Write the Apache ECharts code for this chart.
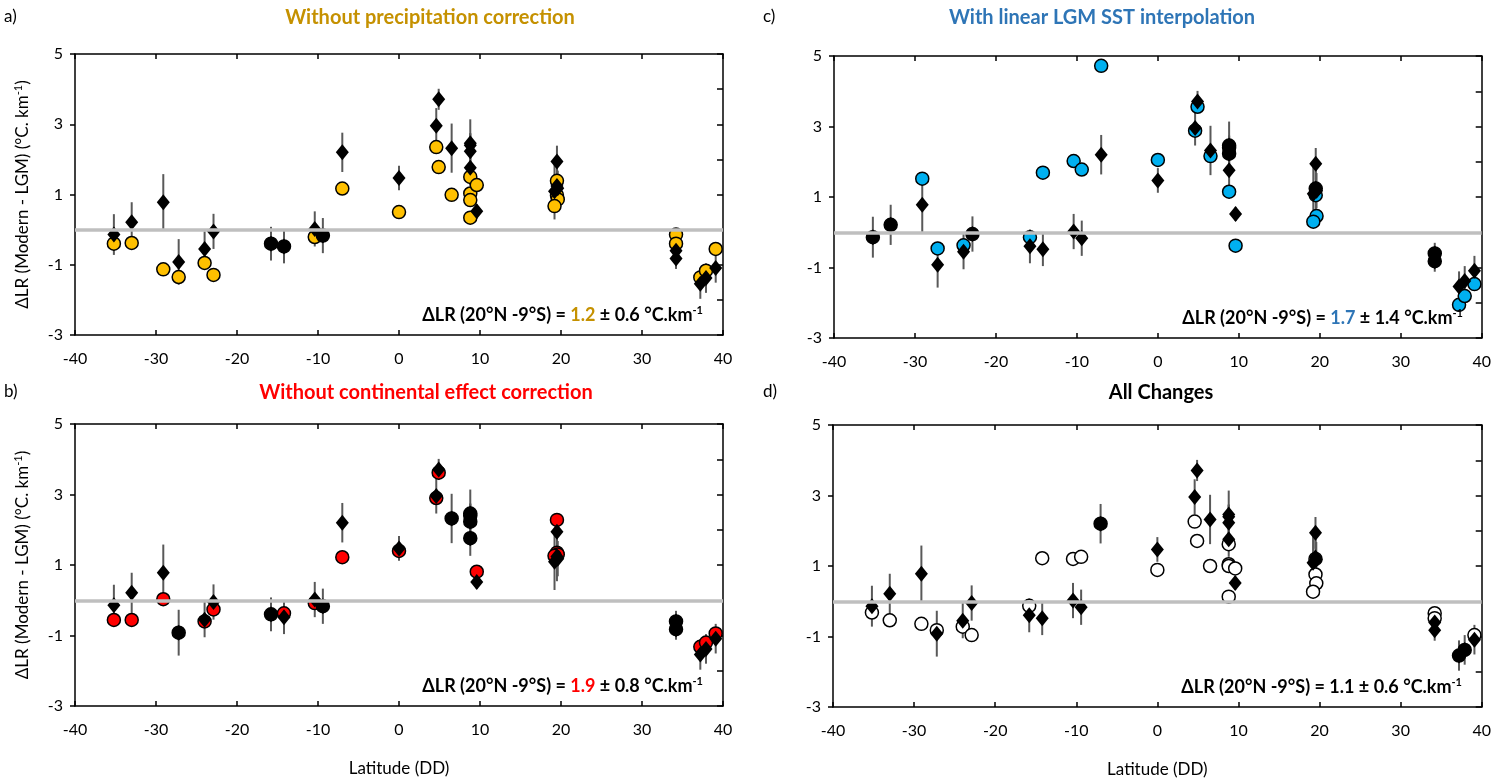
<!DOCTYPE html>
<html>
<head>
<meta charset="utf-8">
<script src="https://cdn.jsdelivr.net/npm/echarts@6/dist/echarts.min.js"></script>
<style>
  html, body { margin: 0; padding: 0; background: #fff; }
  #chart { width: 1494px; height: 780px; }
</style>
</head>
<body>
<div id="chart"></div>
<script>
// site latitudes (DD) and reference lapse-rate change with 1 sigma
var lat = [-35.2, -33.0, -29.1, -27.2, -24.0, -22.9, -15.8, -14.2, -10.4, -9.4, -7.0,
  0.0, 4.6, 4.9, 6.5, 8.8, 8.8, 8.8, 8.8, 9.6, 19.5, 19.5, 19.6, 19.2, 34.2, 34.2, 37.2, 37.9, 39.1];
var lrRef = [-0.14, 0.21, 0.78, -0.92, -0.55, -0.05, -0.40, -0.48, 0.02, -0.17, 2.20,
  1.47, 2.96, 3.71, 2.32, 2.46, 2.40, 2.23, 1.76, 0.52, 1.94, 1.24, 1.18, 1.09, -0.60, -0.82, -1.54, -1.38, -1.09];
var lrErr = [0.58, 0.57, 0.80, 0.65, 0.50, 0.50, 0.48, 0.48, 0.50, 0.50, 0.56,
  0.35, 0.50, 0.30, 0.70, 0.68, 0.35, 0.50, 0.50, 0.20, 0.45, 0.70, 0.50, 0.80, 0.30, 0.30, 0.43, 0.42, 0.42];

// sensitivity tests
var lrNoPrecip = [-0.40, -0.38, -1.13, -1.35, -0.95, -1.29, -0.40, -0.48, -0.21, -0.17, 1.17,
  0.50, 2.35, 1.78, 0.99, 1.50, 1.03, 0.84, 0.34, 1.27, 1.39, 0.98, 0.86, 0.67, -0.14, -0.40, -1.36, -1.17, -0.55];
var lrNoCont = [-0.56, -0.56, 0.03, -0.92, -0.60, -0.26, -0.40, -0.37, -0.08, -0.17, 1.22,
  1.40, 2.90, 3.62, 2.32, 2.46, 2.40, 2.23, 1.76, 0.81, 2.28, 1.35, 1.30, 1.26, -0.60, -0.82, -1.32, -1.20, -0.94];
var lrLinSST = [-0.14, 0.21, 1.52, -0.46, -0.37, -0.05, -0.14, 1.69, 2.02, 1.78, 4.72,
  2.05, 2.88, 3.56, 2.16, 2.46, 2.40, 2.23, 1.15, -0.38, 1.05, 1.24, 0.46, 0.30, -0.60, -0.82, -2.06, -1.81, -1.47];
var lrAll = [-0.32, -0.54, -0.64, -0.82, -0.72, -0.96, -0.13, 1.22, 1.20, 1.26, 2.20,
  0.89, 2.26, 1.71, 1.00, 1.62, 1.05, 1.00, 0.13, 0.93, 1.20, 0.76, 0.51, 0.27, -0.34, -0.48, -1.54, -1.38, -0.96];

var panelLetters = ['a)', 'b)', 'c)', 'd)'];
var panelTitles = ['Without precipitation correction', 'Without continental effect correction',
  'With linear LGM SST interpolation', 'All Changes'];
var meanLR = ['1.2', '1.9', '1.7', '1.1'];
var sdLR = ['0.6', '0.8', '1.4', '0.6'];

var tests = [lrNoPrecip, lrNoCont, lrLinSST, lrAll];
var fills = ['#FFC000', '#FF0000', '#00B0F0', '#FFFFFF'];
var titleColors = ['#C59100', '#FF0000', '#2E75B6', '#000000'];
var valColors = ['#C59100', '#FF0000', '#2E75B6', '#000000'];

var grids = [
  { left: 75, top: 54, width: 648, height: 281 },
  { left: 75, top: 424, width: 648, height: 282 },
  { left: 834, top: 56, width: 649, height: 282 },
  { left: 833, top: 425, width: 649, height: 282 }
];
var titleCenters = [430, 426, 1102, 1161];
var FONT = 'Lato';

var xAxes = [], yAxes = [], series = [], titles = [];

grids.forEach(function (g, i) {
  var bottomRow = (i === 1 || i === 3);
  xAxes.push({
    gridIndex: i, type: 'value', min: -40, max: 40, interval: 10, position: 'bottom',
    name: bottomRow ? 'Latitude (DD)' : '', nameLocation: 'middle', nameGap: 54,
    nameTextStyle: { fontFamily: FONT, fontSize: 17, color: '#000' },
    axisLine: { onZero: false, lineStyle: { color: '#000', width: 1.5 } },
    axisTick: { inside: true, length: 5, lineStyle: { color: '#000', width: 1.5 } },
    axisLabel: { fontFamily: FONT, fontSize: 16, color: '#000', margin: 16 },
    splitLine: { show: false }
  });
  xAxes.push({
    gridIndex: i, type: 'value', min: -40, max: 40, interval: 10, position: 'top',
    axisLine: { onZero: false, lineStyle: { color: '#000', width: 1.5 } },
    axisTick: { inside: true, length: 5, lineStyle: { color: '#000', width: 1.5 } },
    axisLabel: { show: false }, splitLine: { show: false }
  });
  yAxes.push({
    gridIndex: i, type: 'value', min: -3, max: 5, interval: 2, position: 'left',
    name: (i < 2) ? 'ΔLR (Modern - LGM) (°C. km{sup|-1})' : '',
    nameLocation: 'middle', nameRotate: 90, nameGap: 43,
    nameTextStyle: { fontFamily: FONT, fontSize: 17, color: '#000',
      rich: { sup: { fontFamily: FONT, fontSize: 11, verticalAlign: 'top', padding: [0, 0, 8, 0] } } },
    axisLine: { onZero: false, lineStyle: { color: '#000', width: 1.5 } },
    axisTick: { length: 5, lineStyle: { color: '#000', width: 1.5 } },
    axisLabel: { fontFamily: FONT, fontSize: 16, color: '#000', margin: 12 },
    splitLine: { show: false }
  });
  yAxes.push({
    gridIndex: i, type: 'value', min: -3, max: 5, interval: 1, position: 'right',
    axisLine: { onZero: false, lineStyle: { color: '#000', width: 1.5 } },
    axisTick: { inside: true, length: 6, lineStyle: { color: '#000', width: 1.5 } },
    axisLabel: { show: false }, splitLine: { show: false }
  });

  var xi = i * 2, yi = i * 2;
  var vals = tests[i];

  // zero reference line
  series.push({
    type: 'line', xAxisIndex: xi, yAxisIndex: yi, data: [], silent: true,
    markLine: {
      symbol: 'none', silent: true, label: { show: false },
      lineStyle: { color: '#BFBFBF', width: 3.5, type: 'solid' },
      data: [{ yAxis: 0 }]
    }
  });
  // error bars on reference values
  series.push({
    type: 'custom', xAxisIndex: xi, yAxisIndex: yi,
    data: lat.map(function (la, k) { return [la, lrRef[k], lrErr[k]]; }),
    renderItem: function (params, api) {
      var p1 = api.coord([api.value(0), api.value(1) - api.value(2)]);
      var p2 = api.coord([api.value(0), api.value(1) + api.value(2)]);
      return { type: 'line', shape: { x1: p1[0], y1: p1[1], x2: p2[0], y2: p2[1] },
        style: { stroke: '#595959', lineWidth: 2 } };
    },
    z: 2
  });
  // sensitivity circles (black when identical to reference)
  series.push({
    type: 'scatter', xAxisIndex: xi, yAxisIndex: yi, symbol: 'circle', symbolSize: 13,
    data: lat.map(function (la, k) { return [la, vals[k], lrRef[k]]; }),
    itemStyle: {
      borderColor: '#000', borderWidth: 1.5, opacity: 1,
      color: function (p) { return p.data[1] === p.data[2] ? '#000' : fills[i]; }
    },
    z: 3
  });
  // reference values (diamonds)
  series.push({
    type: 'scatter', xAxisIndex: xi, yAxisIndex: yi, symbol: 'diamond', symbolSize: [13, 16],
    data: lat.map(function (la, k) { return [la, lrRef[k]]; }),
    itemStyle: { color: '#000', opacity: 1 },
    z: 4
  });

  titles.push({
    text: panelLetters[i], left: (i < 2) ? 4 : 763, top: (i % 2 === 0) ? 8 : 383, padding: 0,
    textStyle: { fontFamily: FONT, fontSize: 17, fontWeight: 'normal', color: '#000' }
  });
  titles.push({
    text: panelTitles[i], left: titleCenters[i], top: (i % 2 === 0) ? 8 : 383, padding: 0,
    textAlign: 'center',
    textStyle: { fontFamily: FONT, fontSize: 20, fontWeight: 'bold', color: titleColors[i] }
  });
  titles.push({
    text: '{b|ΔLR (20°N -9°S) = }{v|' + meanLR[i] + '}{b| ± ' + sdLR[i] + ' °C.km}{s|-1}',
    right: 1494 - (g.left + g.width) + 20, top: g.top + g.height - 30, padding: 0,
    textStyle: {
      rich: {
        b: { fontFamily: FONT, fontSize: 18, fontWeight: 'bold', color: '#000' },
        v: { fontFamily: FONT, fontSize: 18, fontWeight: 'bold', color: valColors[i] },
        s: { fontFamily: FONT, fontSize: 11, fontWeight: 'bold', color: '#000', verticalAlign: 'top', padding: [0, 0, 9, 0] }
      }
    }
  });
});

var chart = echarts.init(document.getElementById('chart'));
chart.setOption({
  animation: false,
  backgroundColor: '#fff',
  title: titles,
  grid: grids,
  xAxis: xAxes,
  yAxis: yAxes,
  series: series
});
</script>
</body>
</html>
